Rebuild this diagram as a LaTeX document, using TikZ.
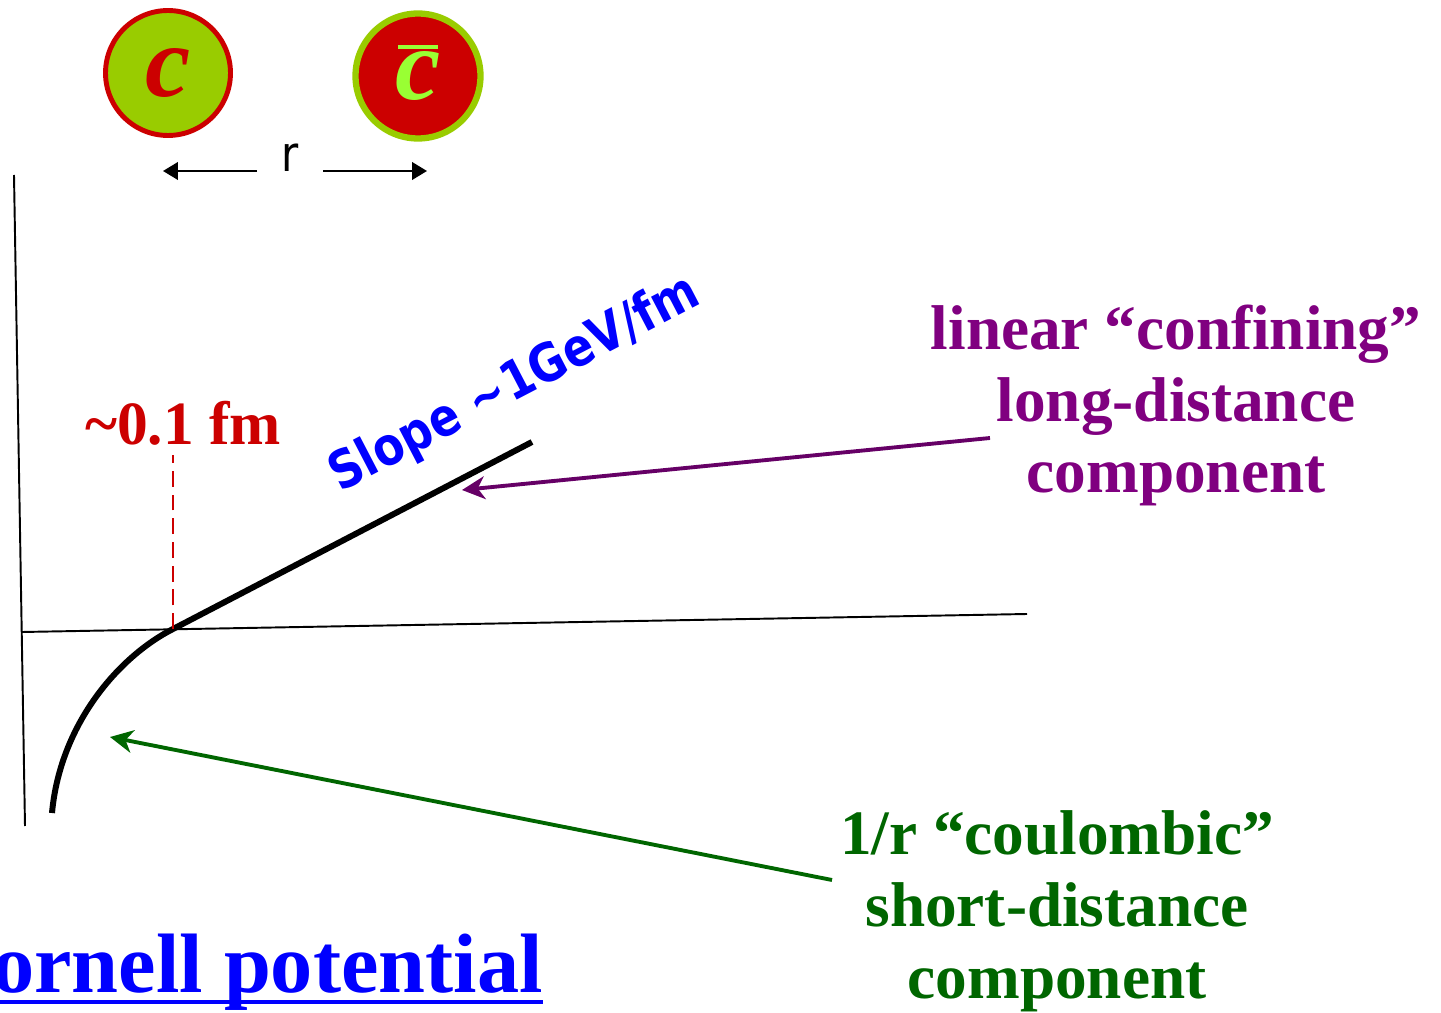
\documentclass[tikz,border=0pt]{standalone}
\usepackage{fontspec}
\setmainfont{Liberation Serif}
\newfontfamily\handfont[FakeStretch=0.85]{DejaVu Sans}
\usetikzlibrary{arrows.meta, positioning}
\definecolor{quarkgreen}{RGB}{153,204,0}
\definecolor{quarkred}{RGB}{204,0,0}
\definecolor{barletter}{RGB}{153,255,51}
\definecolor{confpurple}{RGB}{128,0,128}
\definecolor{arrowpurple}{RGB}{102,0,102}
\definecolor{coulgreen}{RGB}{0,102,0}
\tikzset{
  quark/.style    = {circle, minimum size=2.5cm, inner sep=0pt, line width=2.8pt,
                     font=\fontsize{58}{60}\selectfont\bfseries\itshape},
  axis/.style     = {line width=1.1pt},
  potential/.style= {line width=3.4pt},
  sep/.style      = {line width=1.1pt, -{Triangle[length=8.5pt, width=10pt]}},
  pointer/.style  = {line width=2.2pt, -{Stealth[length=13pt, width=13pt, inset=4pt]}},
  comptext/.style = {align=center, inner sep=0pt,
                     font=\fontsize{36}{40.8}\selectfont\bfseries},
}

\begin{document}
\begin{tikzpicture}[x=0.02cm, y=-0.02cm]
    \useasboundingbox (0,0) rectangle (1441,1013);

    %% The two quarks
    \node[quark, draw=quarkred, fill=quarkgreen, text=quarkred] (charm) at (168,73) {c};
    \node[quark, draw=quarkgreen, line width=3.6pt, fill=quarkred, text=barletter] (anticharm) at (418,76) {c};
    \draw[barletter, line width=2.8pt] (398,47) -- (438,47);

    %% Separation r
    \node[font=\handfont\fontsize{28}{30}\selectfont] (rlab) at (290,158) {r};
    \coordinate (rL) at (163,171);
    \coordinate (rR) at (427,171);
    \draw[sep] (257,171) -- (rL);
    \draw[sep] (323,171) -- (rR);

    %% Axes
    \draw[axis] (14,175) -- (25,826);
    \draw[axis] (22,632) -- (1027,614);

    %% Cornell potential curve
    \coordinate (cross) at (173,629);
    \draw[potential] (52,813) .. controls (60,725) and (118,657) .. (cross) -- (532,442);

    %% 0.1 fm marker
    \node[font=\fontsize{35}{40}\selectfont\bfseries, text=quarkred, anchor=base] (tenth) at (183,445) {\textasciitilde0.1 fm};
    \draw[quarkred, line width=1.7pt, dash pattern=on 9pt off 4.5pt] (cross) -- (173,455);

    %% Slope
    \node[font=\handfont\bfseries\fontsize{30}{34}\selectfont, text=blue, rotate=27.5] (slope) at (515,385) {Slope \textasciitilde1GeV/fm};

    %% Component labels
    \node[comptext, text=confpurple, anchor=base] (linear) at (1176,493) {linear “confining”\\long-distance\\component};
    \node[comptext, text=coulgreen, anchor=base] (coulomb) at (1057,998) {1/r “coulombic”\\short-distance\\component};
    \coordinate (linTail) at (990,438);
    \coordinate (linHead) at (462,490);
    \coordinate (coulTail) at (832,880);
    \coordinate (coulHead) at (110,737);
    \draw[pointer, arrowpurple] (linTail) -- (linHead);
    \draw[pointer, coulgreen] (coulTail) -- (coulHead);

    %% Title
    \node[font=\fontsize{48}{52}\selectfont\bfseries, text=blue, anchor=base east, inner sep=0pt] (title) at (543,992) {Cornell potential};
    \draw[blue, line width=2pt] (-80,1002) -- (543,1002);

  \end{tikzpicture}
\end{document}
